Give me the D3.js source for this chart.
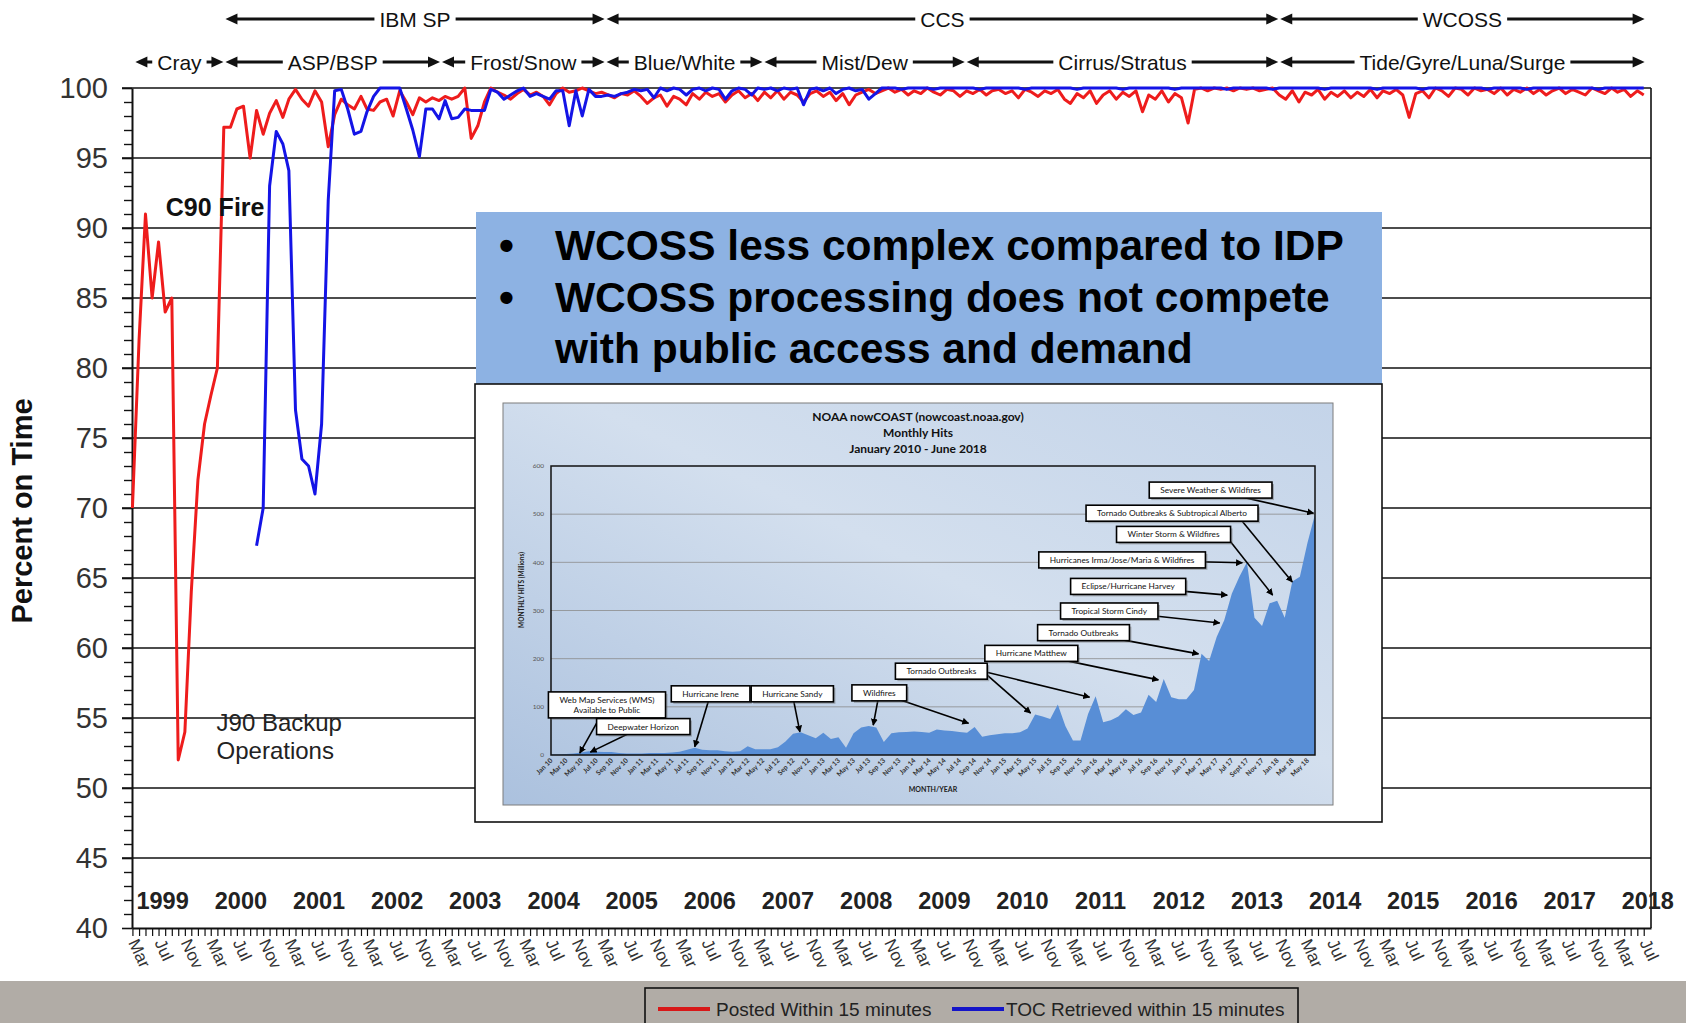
<!doctype html>
<html lang="en">
<head>
<meta charset="UTF-8" />
<title>Percent on Time</title>
<script src="https://d3js.org/d3.v7.min.js"></script>
<style>
    body { margin: 0; background: #fff; }
    svg { display: block; }
    text { font-family: "Liberation Sans", Arial, sans-serif; }
    .inset text { font-family: Lato, "Open Sans", sans-serif; }
</style>
</head>
<body>
<svg id="chart"></svg>
<script>
// ---- main chart data (monthly, starting Mar 1999) ----
const seriesStart = new Date(1999, 2, 1);
const postedPct = [
    70, 82, 91, 85, 89, 84, 85, 52, 54, 64, 72, 76, 78, 80,
    97.2, 97.2, 98.5, 98.7, 95.0, 98.4, 96.7, 98.2, 99.1, 97.9, 99.2, 99.9, 99.2, 98.7, 99.8, 99.0,
    95.8, 98.1, 99.2, 98.8, 98.5, 99.4, 98.5, 98.4, 99.0, 99.2, 98.0, 99.8, 99.0, 98.1, 99.3, 99.0, 99.3, 99.1, 99.4, 99.2, 99.4, 100,
    96.4, 97.3, 99.0, 100, 99.7, 99.5, 99.2, 99.6, 99.9, 99.5, 99.7, 99.4, 98.8, 99.6, 100, 99.7, 99.8, 100, 99.8, 99.6,
    99.7, 99.5, 99.3, 99.6, 99.5, 99.8, 99.4, 98.9, 99.3, 99.5, 98.7, 99.4, 99.2, 98.8, 99.6, 99.2, 99.7, 99.4, 99.6, 99.0,
    99.5, 99.8, 99.3, 99.6, 99.1, 99.7, 99.3, 99.8, 99.2, 99.7, 99.5, 99.0, 99.6, 99.8, 99.4, 99.7, 99.1, 99.6, 98.8, 99.5,
    99.7, 99.9, 99.6,
    99.8, 100, 99.7, 99.9, 99.5, 99.8, 99.6, 100, 99.7, 99.5, 99.9, 99.8, 99.4, 99.8, 99.6, 99.9, 99.5, 99.8, 99.9, 99.6,
    99.8, 99.3, 99.9, 99.7, 99.4, 99.8, 99.6, 99.9, 99.2, 98.9, 99.6, 99.3, 99.8, 98.9, 99.5, 99.8, 99.2, 99.7, 99.4, 99.8,
    98.3, 99.5, 99.2, 99.8, 99.0, 99.6, 99.3, 97.5, 99.9, 100, 99.8, 100, 99.9, 100, 99.8, 100, 99.9, 100, 99.8, 99.9,
    100, 99.5,
    99.2, 99.8, 99.0, 99.7, 99.5, 99.9, 99.2, 99.7, 99.4, 99.8, 99.3, 99.7, 99.4, 99.9, 99.3, 99.8, 99.6, 99.9, 99.5, 97.9,
    99.6, 99.8, 99.3, 100, 99.8, 99.4, 100, 99.9, 99.5, 100, 99.8, 99.9, 99.6, 100, 99.5, 99.9, 99.7, 100, 99.6, 99.9,
    99.5, 99.8, 100, 99.6, 99.9, 99.7, 99.5, 100, 99.8, 99.6, 100, 99.7, 99.9, 99.4, 99.8, 99.5
];
const tocStart = new Date(2000, 9, 1);
const tocPct = [
    67.3, 70, 93, 96.9, 96, 94.1, 77, 73.5, 73, 71, 76, 92, 99.8, 99.9, 98.5,
    96.7, 96.9, 98.3, 99.4, 100, 100, 100, 100, 98.5, 97, 95.1, 98.5, 98.5, 97.8, 99.1, 97.8, 97.9, 98.5, 98.4, 98.4, 98.4,
    99.9, 99.7, 99.2, 99.5, 99.8, 100, 99.4, 99.6, 99.4, 99.2, 99.8, 99.8, 97.3, 99.8, 98, 99.9, 99.4, 99.4, 99.5, 99.4, 99.6, 99.7,
    99.9, 99.8, 99.9, 99.3, 100, 99.8, 100, 99.9, 99.5, 99.9, 100, 99.8, 100, 99.9, 99.2, 99.8, 100, 99.9, 99.5, 100,
    99.9, 100, 99.8, 100, 99.9, 100, 98.8, 99.9, 100, 99.8, 100, 99.6, 99.9, 100, 99.8, 99.9, 99.2, 99.6, 100,
    100, 100, 99.9, 100, 100, 100, 100, 99.9, 100, 100, 100, 100, 100,
    100, 99.9, 100, 100, 100, 100, 100, 100, 99.9, 100, 100, 100, 100,
    100, 100, 100, 99.9, 100, 100, 100, 100, 100, 100, 99.9, 100, 100,
    100, 100, 100, 100, 100, 99.9, 100, 100, 100, 100, 100, 100, 100,
    99.9, 100, 100, 100, 100, 100, 100, 99.9, 100, 100, 100, 100, 100,
    100, 100, 99.9, 100, 100, 100, 100, 100, 100, 100, 99.9, 100, 100,
    100, 100, 100, 100, 99.9, 100, 100, 100, 100, 100, 100, 100, 100,
    100, 99.9, 100, 100, 100, 100, 100, 99.9, 100, 100, 100, 100, 100,
    100, 100, 100, 100, 100, 99.9, 100, 100, 100, 100, 100, 100, 100
];
const yTicks = [40, 45, 50, 55, 60, 65, 70, 75, 80, 85, 90, 95, 100];
const years = d3.range(1999, 2019);
const monthLabels = ["Mar", "Jul", "Nov"];
const platformEras = [
    { name: "IBM SP", from: "2000-05-04", to: "2005-03-20" },
    { name: "CCS", from: "2005-03-20", to: "2013-11-01" },
    { name: "WCOSS", from: "2013-11-01", to: "2018-07-10" }
];
const machineEras = [
    { name: "Cray", from: "1999-03-10", to: "2000-05-04" },
    { name: "ASP/BSP", from: "2000-05-04", to: "2003-02-10" },
    { name: "Frost/Snow", from: "2003-02-10", to: "2005-03-20" },
    { name: "Blue/White", from: "2005-03-20", to: "2007-03-28" },
    { name: "Mist/Dew", from: "2007-03-28", to: "2009-10-28" },
    { name: "Cirrus/Stratus", from: "2009-10-28", to: "2013-11-01" },
    { name: "Tide/Gyre/Luna/Surge", from: "2013-11-01", to: "2018-07-10" }
];
const seriesNames = ["Posted Within 15 minutes", "TOC Retrieved within 15 minutes"];
const bullets = ["WCOSS less complex compared to IDP", "WCOSS processing does not compete", "with public access and demand"];

// ---- inset data (monthly hits, millions, Jan 2010 - Jun 2018) ----
const insetStart = new Date(2010, 0, 1);
const insetHits = [
    1, 1, 2, 3, 5, 8, 7, 6, 6, 4, 3, 3,
    3, 4, 4, 4, 5, 7, 11, 15, 11, 10, 10, 8,
    7, 8, 18, 12, 12, 12, 16, 28, 44, 47, 41, 35,
    46, 33, 37, 15, 45, 57, 60, 57, 27, 45, 47, 48,
    49, 48, 46, 53, 51, 50, 48, 46, 58, 38, 41, 43,
    45, 45, 47, 55, 84, 80, 75, 105, 60, 30, 30, 85,
    122, 68, 72, 80, 95, 83, 88, 125, 110, 158, 120, 116,
    116, 135, 210, 195, 245, 280, 335, 370, 400, 285, 268, 315,
    320, 285, 360, 370, 440, 500
];
const insetYTicks = [0, 100, 200, 300, 400, 500, 600];
const insetTitle = ["NOAA nowCOAST (nowcoast.noaa.gov)", "Monthly Hits", "January 2010 - June 2018"];
// callouts: box centre and arrow tips in [month index, hits]
const insetNotes = [
    { label: ["Web Map Services (WMS)", "Available to Public"], box: [7.4, 104], tips: [[3.8, 4]] },
    { label: ["Deepwater Horizon"], box: [12.2, 59], tips: [[5.2, 6]] },
    { label: ["Hurricane Irene"], box: [21.1, 127], tips: [[19, 17]] },
    { label: ["Hurricane Sandy"], box: [31.9, 127], tips: [[32.9, 48]] },
    { label: ["Wildfires"], box: [43.4, 129], tips: [[42.6, 62], [55.2, 66]] },
    { label: ["Tornado Outbreaks"], box: [51.6, 174], tips: [[63.4, 87], [71.2, 120]], from: 0.95 },
    { label: ["Hurricane Matthew"], box: [63.5, 211], tips: [[80.3, 156]] },
    { label: ["Tornado Outbreaks"], box: [70.4, 254], tips: [[85.6, 210]] },
    { label: ["Tropical Storm Cindy"], box: [73.8, 299], tips: [[88.4, 274]] },
    { label: ["Eclipse/Hurricane Harvey"], box: [76.3, 350], tips: [[89.4, 332]] },
    { label: ["Hurricanes Irma/Jose/Maria & Wildfires"], box: [75.5, 405], tips: [[91.4, 399]] },
    { label: ["Winter Storm  & Wildfires"], box: [82.3, 458], tips: [[95.4, 332]], from: 0.95 },
    { label: ["Tornado Outbreaks & Subtropical Alberto"], box: [82.1, 502], tips: [[98, 359]], from: 0.87 },
    { label: ["Severe Weather & Wildfires"], box: [87.2, 550], tips: [[100.8, 502]] }
];

// ---- setup ----
const W = 1686, H = 1023;
const svg = d3.select("#chart").attr("width", W).attr("height", H);
svg.append("rect").attr("width", W).attr("height", H).attr("fill", "#fff");

const x = d3.scaleTime()
    .domain([new Date(1999, 1, 27), new Date(2018, 7, 4)])
    .range([132, 1651]);
const y = d3.scaleLinear().domain([40, 100]).range([928, 88]);
const parse = d3.timeParse("%Y-%m-%d");

// gridlines
svg.append("g").selectAll("line")
    .data(yTicks.filter(d => d > 40))
    .join("line")
    .attr("x1", 122).attr("x2", 1651)
    .attr("y1", d => y(d)).attr("y2", d => y(d))
    .attr("stroke", "#111").attr("stroke-width", 1.6);

// y axis
const yAxis = svg.append("g").attr("transform", "translate(132,0)")
    .call(d3.axisLeft(y).tickValues(yTicks).tickSize(10).tickPadding(14).tickSizeOuter(0));
yAxis.select(".domain").attr("stroke", "#111").attr("stroke-width", 2);
yAxis.selectAll(".tick line").attr("stroke", "#111").attr("stroke-width", 1.6);
yAxis.selectAll(".tick text").attr("font-size", 29).attr("fill", "#333")
    .attr("font-family", "'Liberation Sans', Arial, sans-serif");
const minor = svg.append("g").attr("transform", "translate(132,0)")
    .call(d3.axisLeft(y).tickValues(d3.range(40, 100).filter(d => d % 5 !== 0)).tickSize(8).tickFormat(""));
minor.select(".domain").remove();
minor.selectAll(".tick line").attr("stroke", "#111").attr("stroke-width", 1.4);

// right border
svg.append("line").attr("x1", 1651).attr("x2", 1651).attr("y1", y(100)).attr("y2", y(40))
    .attr("stroke", "#111").attr("stroke-width", 1.6);

// x axis with monthly ticks
const months = d3.timeMonth.range(new Date(1999, 2, 1), new Date(2018, 7, 1));
const xAxis = svg.append("g").attr("transform", `translate(0,${y(40)})`)
    .call(d3.axisBottom(x).tickValues(months).tickSize(8).tickFormat("").tickSizeOuter(0));
xAxis.select(".domain").attr("stroke", "#111").attr("stroke-width", 2);
xAxis.selectAll(".tick line").attr("stroke", "#111").attr("stroke-width", 1.2);

const fmtMonth = d3.timeFormat("%b");
svg.append("g").selectAll("text")
    .data(months.filter(d => monthLabels.includes(fmtMonth(d))))
    .join("text")
    .attr("transform", d => `translate(${x(d) + 1},${y(40) + 12}) rotate(65)`)
    .attr("dy", "0.35em")
    .attr("font-size", 17).attr("fill", "#333")
    .text(d => fmtMonth(d));

// year labels inside the plot
svg.append("g").selectAll("text")
    .data(years)
    .join("text")
    .attr("x", d => x(new Date(d, 6, 20)))
    .attr("y", 909)
    .attr("text-anchor", "middle")
    .attr("font-size", 23.5).attr("font-weight", "bold").attr("fill", "#222")
    .text(d => d);

// series
const posted = postedPct.map((v, i) => ({ date: d3.timeMonth.offset(seriesStart, i), v }));
const toc = tocPct.map((v, i) => ({ date: d3.timeMonth.offset(tocStart, i), v }));
const line = d3.line().x(d => x(d.date)).y(d => y(d.v));
svg.append("path").datum(posted).attr("d", line)
    .attr("fill", "none").attr("stroke", "#ee1c1c").attr("stroke-width", 3).attr("stroke-linejoin", "round");
svg.append("path").datum(toc).attr("d", line)
    .attr("fill", "none").attr("stroke", "#1414e6").attr("stroke-width", 3).attr("stroke-linejoin", "round");

// chart annotations
svg.append("text").attr("x", x(new Date(1999, 7, 4))).attr("y", y(90.85))
    .attr("font-size", 25).attr("font-weight", "bold").attr("fill", "#111").text("C90 Fire");
const j90 = svg.append("text").attr("font-size", 24).attr("fill", "#222");
j90.append("tspan").attr("x", x(new Date(2000, 2, 28))).attr("y", y(54.1)).text("J90 Backup");
j90.append("tspan").attr("x", x(new Date(2000, 2, 28))).attr("y", y(52.05)).text("Operations");

// y title
svg.append("text").attr("transform", "translate(32,511) rotate(-90)")
    .attr("text-anchor", "middle").attr("font-size", 29).attr("font-weight", "bold").attr("fill", "#111")
    .text("Percent on Time");

// era arrows above the plot
function eraRow(eras, cy) {
    eras.forEach(e => {
        const x0 = x(parse(e.from)), x1 = x(parse(e.to)), mid = (x0 + x1) / 2;
        const g = svg.append("g");
        const t = g.append("text").attr("x", mid).attr("y", cy).attr("dy", "0.36em")
            .attr("text-anchor", "middle").attr("font-size", 21).attr("fill", "#111").text(e.name);
        const tw = t.node().getComputedTextLength();
        const a = mid - tw / 2 - 5, b = mid + tw / 2 + 5;
        if (a > x0 + 10) g.append("line").attr("x1", x0 + 8).attr("x2", a).attr("y1", cy).attr("y2", cy)
            .attr("stroke", "#111").attr("stroke-width", 3);
        if (b < x1 - 10) g.append("line").attr("x1", b).attr("x2", x1 - 8).attr("y1", cy).attr("y2", cy)
            .attr("stroke", "#111").attr("stroke-width", 3);
        g.append("path").attr("d", `M${x0 + 1},${cy}L${x0 + 13},${cy - 5.5}L${x0 + 13},${cy + 5.5}Z`).attr("fill", "#111");
        g.append("path").attr("d", `M${x1 - 1},${cy}L${x1 - 13},${cy - 5.5}L${x1 - 13},${cy + 5.5}Z`).attr("fill", "#111");
    });
}
eraRow(platformEras, 19);
eraRow(machineEras, 62);

// ---- callout box with bullets ----
svg.append("rect").attr("x", 476).attr("y", 212).attr("width", 906).attr("height", 172).attr("fill", "#8db2e3");
bullets.forEach((b, i) => {
    const by = [260, 312, 363][i];
    if (i < 2) svg.append("text").attr("x", 499).attr("y", by).attr("font-size", 42.5).attr("font-weight", "bold").text("\u2022");
    svg.append("text").attr("x", 555).attr("y", by).attr("font-size", 42.5).attr("font-weight", "bold").attr("fill", "#000").text(b);
});

// ---- white panel holding inset ----
svg.append("rect").attr("x", 475).attr("y", 384).attr("width", 907).attr("height", 438)
    .attr("fill", "#fff").attr("stroke", "#111").attr("stroke-width", 1.6);

const inset = svg.append("g").attr("class", "inset");
const defs = svg.append("defs");
const grad = defs.append("linearGradient").attr("id", "insetBg")
    .attr("x1", "0").attr("y1", "1").attr("x2", "1").attr("y2", "0");
grad.append("stop").attr("offset", "0").attr("stop-color", "#abc1de");
grad.append("stop").attr("offset", "0.55").attr("stop-color", "#d3dfee");
grad.append("stop").attr("offset", "1").attr("stop-color", "#c4d4e9");
defs.append("marker").attr("id", "ah").attr("viewBox", "0 0 10 10").attr("refX", 9).attr("refY", 5)
    .attr("markerWidth", 7).attr("markerHeight", 7).attr("markerUnits", "userSpaceOnUse").attr("orient", "auto")
    .append("path").attr("d", "M0,0L10,5L0,10Z").attr("fill", "#000");

inset.append("rect").attr("x", 503).attr("y", 403).attr("width", 830).attr("height", 402)
    .attr("fill", "url(#insetBg)").attr("stroke", "#7d7d7d").attr("stroke-width", 1);

const xi = d3.scaleLinear().domain([0, insetHits.length - 1]).range([551, 1315]);
const yi = d3.scaleLinear().domain([0, 600]).range([755, 466]);

insetTitle.forEach((t, i) => inset.append("text").attr("x", 918).attr("y", 421 + i * 16)
    .attr("text-anchor", "middle").attr("font-size", 12).attr("font-weight", "bold").attr("fill", "#111").text(t));

inset.append("g").selectAll("line").data(insetYTicks.slice(1, -1)).join("line")
    .attr("x1", xi(0)).attr("x2", xi(insetHits.length - 1)).attr("y1", d => yi(d)).attr("y2", d => yi(d))
    .attr("stroke", "#8c8c8c").attr("stroke-width", 0.8);

const area = d3.area().x((d, i) => xi(i)).y0(yi(0)).y1(d => yi(d));
inset.append("path").datum(insetHits).attr("d", area).attr("fill", "#588ed6");

inset.append("rect").attr("x", xi(0)).attr("y", yi(600)).attr("width", xi(insetHits.length - 1) - xi(0))
    .attr("height", yi(0) - yi(600)).attr("fill", "none").attr("stroke", "#111").attr("stroke-width", 1.5);

inset.append("g").selectAll("text").data(insetYTicks).join("text")
    .attr("x", 544).attr("y", d => yi(d)).attr("dy", "0.35em").attr("text-anchor", "end")
    .attr("font-size", 6.5).attr("fill", "#555").text(d => d);
inset.append("text").attr("transform", "translate(524,590) rotate(-90)").attr("text-anchor", "middle")
    .attr("font-size", 6.5).attr("font-weight", "bold").attr("fill", "#222").text("MONTHLY HITS (Millions)");

const fmtInset = d3.timeFormat("%b %y");
inset.append("g").selectAll("text").data(d3.range(0, insetHits.length, 2)).join("text")
    .attr("transform", d => `translate(${xi(d) + 2},${yi(0) + 6}) rotate(-45)`)
    .attr("text-anchor", "end").attr("font-size", 6.8).attr("font-weight", "bold").attr("fill", "#333")
    .text(d => {
        const s = fmtInset(d3.timeMonth.offset(insetStart, d));
        return s === "Sep 17" ? "Sept 17" : s;
    });
inset.append("text").attr("x", 933).attr("y", 792).attr("text-anchor", "middle")
    .attr("font-size", 7).attr("font-weight", "bold").attr("fill", "#222").text("MONTH/YEAR");

// callouts
const noteFont = 8.3;
insetNotes.forEach(n => {
    const cx = xi(n.box[0]), cy = yi(n.box[1]);
    const g = inset.append("g");
    const tmp = g.append("text").attr("font-size", noteFont);
    const tw = d3.max(n.label, s => { tmp.text(s); return tmp.node().getComputedTextLength(); });
    tmp.remove();
    const w = tw + 22, h = 10 * n.label.length + 6;
    const sx = cx + ((n.from || 0.5) - 0.5) * w;
    n.tips.forEach(t => {
        g.append("line").attr("x1", sx).attr("y1", cy).attr("x2", xi(t[0])).attr("y2", yi(t[1]))
            .attr("stroke", "#000").attr("stroke-width", 1.6).attr("marker-end", "url(#ah)");
    });
    g.append("rect").attr("x", cx - w / 2 + 2).attr("y", cy - h / 2 + 2).attr("width", w).attr("height", h)
        .attr("fill", "#6b6b6b").attr("opacity", 0.45);
    g.append("rect").attr("x", cx - w / 2).attr("y", cy - h / 2).attr("width", w).attr("height", h)
        .attr("fill", "#fff").attr("stroke", "#000").attr("stroke-width", 1.6);
    n.label.forEach((s, i) => g.append("text").attr("x", cx).attr("y", cy - h / 2 + 11 + i * 10)
        .attr("text-anchor", "middle").attr("font-size", noteFont).attr("fill", "#111").text(s));
});

// ---- bottom band and legend ----
svg.append("rect").attr("x", 0).attr("y", 981).attr("width", W).attr("height", H - 981).attr("fill", "#b1aca6");
svg.append("rect").attr("x", 645).attr("y", 988).attr("width", 653).attr("height", 45)
    .attr("fill", "none").attr("stroke", "#111").attr("stroke-width", 1.6);
const legendColors = ["#d81818", "#1414c8"];
[[658, 716], [952, 1006]].forEach(([lx, tx], i) => {
    svg.append("line").attr("x1", lx).attr("x2", lx + 52).attr("y1", 1009).attr("y2", 1009)
        .attr("stroke", legendColors[i]).attr("stroke-width", 4);
    svg.append("text").attr("x", tx).attr("y", 1016).attr("font-size", 19).attr("fill", "#222").text(seriesNames[i]);
});
</script>
</body>
</html>
